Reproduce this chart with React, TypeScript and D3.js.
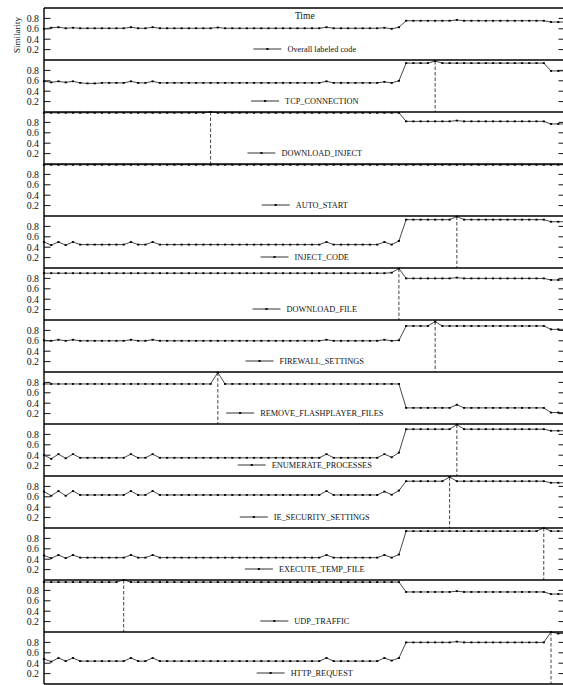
import React, { useEffect, useRef } from 'react';
import * as d3 from 'd3';

// one series per panel, 73 time steps each
const seriesNames = [
  'Overall labeled code',
  'TCP_CONNECTION',
  'DOWNLOAD_INJECT',
  'AUTO_START',
  'INJECT_CODE',
  'DOWNLOAD_FILE',
  'FIREWALL_SETTINGS',
  'REMOVE_FLASHPLAYER_FILES',
  'ENUMERATE_PROCESSES',
  'IE_SECURITY_SETTINGS',
  'EXECUTE_TEMP_FILE',
  'UDP_TRAFFIC',
  'HTTP_REQUEST',
];

// panels that get a dashed line at their best-matching step
const peakMarked = [false, true, true, false, true, true, true, true, true, true, true, true, true];

const overallCode = [
  0.60, 0.62, 0.63, 0.61, 0.62, 0.61, 0.61, 0.61, 0.61, 0.61,
  0.61, 0.61, 0.63, 0.61, 0.61, 0.63, 0.61, 0.61, 0.61, 0.61,
  0.61, 0.61, 0.61, 0.61, 0.625, 0.61, 0.61, 0.61, 0.61, 0.61,
  0.61, 0.61, 0.61, 0.61, 0.61, 0.61, 0.61, 0.61, 0.61, 0.63,
  0.61, 0.61, 0.61, 0.61, 0.61, 0.61, 0.61, 0.62, 0.60, 0.63,
  0.755, 0.755, 0.755, 0.755, 0.755, 0.755, 0.755, 0.77, 0.755, 0.755,
  0.755, 0.755, 0.755, 0.755, 0.755, 0.755, 0.755, 0.755, 0.755, 0.755,
  0.73, 0.73, 0.73,
];

const tcpConnection = [
  0.59, 0.57, 0.59, 0.57, 0.59, 0.56, 0.55, 0.55, 0.56, 0.56,
  0.56, 0.56, 0.59, 0.56, 0.56, 0.59, 0.56, 0.56, 0.56, 0.56,
  0.56, 0.56, 0.56, 0.56, 0.56, 0.56, 0.56, 0.56, 0.56, 0.56,
  0.56, 0.56, 0.56, 0.56, 0.56, 0.56, 0.56, 0.56, 0.56, 0.59,
  0.56, 0.56, 0.56, 0.56, 0.56, 0.56, 0.56, 0.58, 0.56, 0.60,
  0.94, 0.94, 0.94, 0.94, 0.98, 0.94, 0.94, 0.94, 0.94, 0.94,
  0.94, 0.94, 0.94, 0.94, 0.94, 0.94, 0.94, 0.94, 0.94, 0.94,
  0.79, 0.79, 0.79,
];

const downloadInject = [
  0.985, 0.985, 0.985, 0.985, 0.985, 0.985, 0.985, 0.985, 0.985, 0.985,
  0.985, 0.985, 0.985, 0.985, 0.985, 0.985, 0.985, 0.985, 0.985, 0.985,
  0.985, 0.985, 0.985, 1.0, 0.985, 0.985, 0.985, 0.985, 0.985, 0.985,
  0.985, 0.985, 0.985, 0.985, 0.985, 0.985, 0.985, 0.985, 0.985, 0.985,
  0.985, 0.985, 0.985, 0.985, 0.985, 0.985, 0.985, 0.985, 0.985, 0.985,
  0.82, 0.82, 0.82, 0.82, 0.82, 0.82, 0.82, 0.835, 0.82, 0.82,
  0.82, 0.82, 0.82, 0.82, 0.82, 0.82, 0.82, 0.82, 0.82, 0.82,
  0.77, 0.77, 0.77,
];

const autoStart = [
  0.985, 0.985, 0.985, 0.985, 0.985, 0.985, 0.985, 0.985, 0.985, 0.985,
  0.985, 0.985, 0.985, 0.985, 0.985, 0.985, 0.985, 0.985, 0.985, 0.985,
  0.985, 0.985, 0.985, 0.985, 0.985, 0.985, 0.985, 0.985, 0.985, 0.985,
  0.985, 0.985, 0.985, 0.985, 0.985, 0.985, 0.985, 0.985, 0.985, 0.985,
  0.985, 0.985, 0.985, 0.985, 0.985, 0.985, 0.985, 0.985, 0.985, 0.985,
  0.985, 0.985, 0.985, 0.985, 0.985, 0.985, 0.985, 0.985, 0.985, 0.985,
  0.985, 0.985, 0.985, 0.985, 0.985, 0.985, 0.985, 0.985, 0.985, 0.985,
  0.985, 0.985, 0.985,
];

const injectCode = [
  0.50, 0.44, 0.50, 0.44, 0.50, 0.45, 0.45, 0.45, 0.45, 0.45,
  0.45, 0.45, 0.50, 0.45, 0.45, 0.50, 0.45, 0.45, 0.45, 0.45,
  0.45, 0.45, 0.45, 0.45, 0.45, 0.45, 0.45, 0.45, 0.45, 0.45,
  0.45, 0.45, 0.45, 0.45, 0.45, 0.45, 0.45, 0.45, 0.45, 0.50,
  0.45, 0.45, 0.45, 0.45, 0.45, 0.45, 0.45, 0.50, 0.45, 0.52,
  0.93, 0.93, 0.93, 0.93, 0.93, 0.93, 0.93, 0.99, 0.93, 0.93,
  0.93, 0.93, 0.93, 0.93, 0.93, 0.93, 0.93, 0.93, 0.93, 0.93,
  0.89, 0.89, 0.89,
];

const downloadFile = [
  0.90, 0.90, 0.90, 0.90, 0.90, 0.90, 0.90, 0.90, 0.90, 0.90,
  0.90, 0.90, 0.90, 0.90, 0.90, 0.90, 0.90, 0.90, 0.90, 0.90,
  0.90, 0.90, 0.90, 0.90, 0.90, 0.90, 0.90, 0.90, 0.90, 0.90,
  0.90, 0.90, 0.90, 0.90, 0.90, 0.90, 0.90, 0.90, 0.90, 0.90,
  0.90, 0.90, 0.90, 0.90, 0.90, 0.90, 0.90, 0.90, 0.91, 0.99,
  0.80, 0.80, 0.80, 0.80, 0.80, 0.80, 0.80, 0.815, 0.80, 0.80,
  0.80, 0.80, 0.80, 0.80, 0.80, 0.80, 0.80, 0.80, 0.80, 0.80,
  0.77, 0.77, 0.77,
];

const firewallSettings = [
  0.61, 0.60, 0.62, 0.60, 0.62, 0.60, 0.60, 0.60, 0.60, 0.60,
  0.60, 0.60, 0.62, 0.60, 0.60, 0.62, 0.60, 0.60, 0.60, 0.60,
  0.60, 0.60, 0.60, 0.60, 0.60, 0.60, 0.60, 0.60, 0.60, 0.60,
  0.60, 0.60, 0.60, 0.60, 0.60, 0.60, 0.60, 0.60, 0.60, 0.62,
  0.60, 0.60, 0.60, 0.60, 0.60, 0.60, 0.60, 0.62, 0.60, 0.61,
  0.885, 0.885, 0.885, 0.885, 0.97, 0.885, 0.885, 0.885, 0.885, 0.885,
  0.885, 0.885, 0.885, 0.885, 0.885, 0.885, 0.885, 0.885, 0.885, 0.885,
  0.82, 0.82, 0.82,
];

const removeFlashplayerFiles = [
  0.77, 0.77, 0.77, 0.77, 0.77, 0.77, 0.77, 0.77, 0.77, 0.77,
  0.77, 0.77, 0.77, 0.77, 0.77, 0.77, 0.77, 0.77, 0.77, 0.77,
  0.77, 0.77, 0.77, 0.77, 0.99, 0.77, 0.77, 0.77, 0.77, 0.77,
  0.77, 0.77, 0.77, 0.77, 0.77, 0.77, 0.77, 0.77, 0.77, 0.77,
  0.77, 0.77, 0.77, 0.77, 0.77, 0.77, 0.77, 0.77, 0.77, 0.77,
  0.31, 0.31, 0.31, 0.31, 0.31, 0.31, 0.31, 0.37, 0.31, 0.31,
  0.31, 0.31, 0.31, 0.31, 0.31, 0.31, 0.31, 0.31, 0.31, 0.31,
  0.22, 0.22, 0.22,
];

const enumerateProcesses = [
  0.40, 0.33, 0.42, 0.34, 0.42, 0.35, 0.35, 0.35, 0.35, 0.35,
  0.35, 0.35, 0.42, 0.35, 0.35, 0.42, 0.35, 0.35, 0.35, 0.35,
  0.35, 0.35, 0.35, 0.35, 0.35, 0.35, 0.35, 0.35, 0.35, 0.35,
  0.35, 0.35, 0.35, 0.35, 0.35, 0.35, 0.35, 0.35, 0.35, 0.42,
  0.35, 0.35, 0.35, 0.35, 0.35, 0.35, 0.35, 0.42, 0.36, 0.45,
  0.90, 0.90, 0.90, 0.90, 0.90, 0.90, 0.90, 0.99, 0.90, 0.90,
  0.90, 0.90, 0.90, 0.90, 0.90, 0.90, 0.90, 0.90, 0.90, 0.90,
  0.87, 0.87, 0.87,
];

const ieSecuritySettings = [
  0.70, 0.62, 0.71, 0.62, 0.71, 0.635, 0.635, 0.635, 0.635, 0.635,
  0.635, 0.635, 0.71, 0.635, 0.635, 0.71, 0.635, 0.635, 0.635, 0.635,
  0.635, 0.635, 0.635, 0.635, 0.635, 0.635, 0.635, 0.635, 0.635, 0.635,
  0.635, 0.635, 0.635, 0.635, 0.635, 0.635, 0.635, 0.635, 0.635, 0.71,
  0.635, 0.635, 0.635, 0.635, 0.635, 0.635, 0.635, 0.70, 0.64, 0.72,
  0.90, 0.90, 0.90, 0.90, 0.90, 0.90, 0.98, 0.90, 0.90, 0.90,
  0.90, 0.90, 0.90, 0.90, 0.90, 0.90, 0.90, 0.90, 0.90, 0.90,
  0.87, 0.87, 0.87,
];

const executeTempFile = [
  0.47, 0.42, 0.48, 0.42, 0.48, 0.43, 0.43, 0.43, 0.43, 0.43,
  0.43, 0.43, 0.48, 0.43, 0.43, 0.48, 0.43, 0.43, 0.43, 0.43,
  0.43, 0.43, 0.43, 0.43, 0.43, 0.43, 0.43, 0.43, 0.43, 0.43,
  0.43, 0.43, 0.43, 0.43, 0.43, 0.43, 0.43, 0.43, 0.43, 0.48,
  0.43, 0.43, 0.43, 0.43, 0.43, 0.43, 0.43, 0.48, 0.43, 0.49,
  0.94, 0.94, 0.94, 0.94, 0.94, 0.94, 0.94, 0.94, 0.94, 0.94,
  0.94, 0.94, 0.94, 0.94, 0.94, 0.94, 0.94, 0.94, 0.94, 1.0,
  0.94, 0.94, 0.94,
];

const udpTraffic = [
  0.96, 0.96, 0.96, 0.96, 0.96, 0.96, 0.96, 0.96, 0.96, 0.96,
  0.96, 1.0, 0.96, 0.96, 0.96, 0.96, 0.96, 0.96, 0.96, 0.96,
  0.96, 0.96, 0.96, 0.96, 0.96, 0.96, 0.96, 0.96, 0.96, 0.96,
  0.96, 0.96, 0.96, 0.96, 0.96, 0.96, 0.96, 0.96, 0.96, 0.96,
  0.96, 0.96, 0.96, 0.96, 0.96, 0.96, 0.96, 0.96, 0.96, 0.96,
  0.77, 0.77, 0.77, 0.77, 0.77, 0.77, 0.77, 0.785, 0.77, 0.77,
  0.77, 0.77, 0.77, 0.77, 0.77, 0.77, 0.77, 0.77, 0.77, 0.77,
  0.73, 0.73, 0.73,
];

const httpRequest = [
  0.48, 0.43, 0.50, 0.44, 0.50, 0.44, 0.44, 0.44, 0.44, 0.44,
  0.44, 0.44, 0.50, 0.44, 0.44, 0.50, 0.44, 0.44, 0.44, 0.44,
  0.44, 0.44, 0.44, 0.44, 0.44, 0.44, 0.44, 0.44, 0.44, 0.44,
  0.44, 0.44, 0.44, 0.44, 0.44, 0.44, 0.44, 0.44, 0.44, 0.50,
  0.44, 0.44, 0.44, 0.44, 0.44, 0.44, 0.44, 0.50, 0.45, 0.50,
  0.80, 0.80, 0.80, 0.80, 0.80, 0.80, 0.80, 0.815, 0.80, 0.80,
  0.80, 0.80, 0.80, 0.80, 0.80, 0.80, 0.80, 0.80, 0.80, 0.80,
  1.0, 0.97, 0.97,
];

const seriesValues = [
  overallCode, tcpConnection, downloadInject, autoStart, injectCode,
  downloadFile, firewallSettings, removeFlashplayerFiles, enumerateProcesses,
  ieSecuritySettings, executeTempFile, udpTraffic, httpRequest,
];

const yTickValues = [0.2, 0.4, 0.6, 0.8];

const width = 563;
const height = 685;
const plotLeft = 44;
const plotRight = 565.5;
const plotTop = 8;
const panelHeight = 52;
const serif = "'Liberation Serif', 'Times New Roman', Times, serif";

export default function App() {
  const svgRef = useRef<SVGSVGElement>(null);

  useEffect(() => {
    const svg = d3.select(svgRef.current);
    svg.selectAll('*').remove();
    svg.attr('font-family', serif);

    const x = d3.scaleLinear()
      .domain([0, overallCode.length - 1])
      .range([plotLeft, plotRight]);
    const y = d3.scaleLinear().domain([0, 1]).range([panelHeight, 0]);

    const line = d3.line<number>()
      .x((d, i) => x(i))
      .y(d => y(d));

    seriesValues.forEach((values, k) => {
      const g = svg.append('g')
        .attr('transform', `translate(0,${plotTop + k * panelHeight})`);

      // inward ticks on both sides
      g.selectAll('.tick-left')
        .data(yTickValues)
        .enter()
        .append('line')
        .attr('x1', plotLeft)
        .attr('x2', plotLeft + 6.5)
        .attr('y1', d => y(d))
        .attr('y2', d => y(d))
        .attr('stroke', '#111')
        .attr('stroke-width', 1);

      g.selectAll('.tick-right')
        .data(yTickValues)
        .enter()
        .append('line')
        .attr('x1', plotRight - 7)
        .attr('x2', plotRight)
        .attr('y1', d => y(d))
        .attr('y2', d => y(d))
        .attr('stroke', '#111')
        .attr('stroke-width', 1);

      g.selectAll('.tick-label')
        .data(yTickValues)
        .enter()
        .append('text')
        .attr('x', plotLeft - 5)
        .attr('y', d => y(d))
        .attr('dy', '0.35em')
        .attr('text-anchor', 'end')
        .attr('font-family', serif)
        .attr('font-size', 9.8)
        .attr('fill', '#111')
        .text(d => d.toFixed(1));

      // dashed marker at the series maximum
      if (peakMarked[k]) {
        const peak = d3.maxIndex(values);
        g.append('line')
          .attr('x1', x(peak))
          .attr('x2', x(peak))
          .attr('y1', y(values[peak]))
          .attr('y2', panelHeight)
          .attr('stroke', '#444')
          .attr('stroke-width', 1)
          .attr('stroke-dasharray', '3.5,2');
      }

      g.append('path')
        .attr('d', line(values))
        .attr('fill', 'none')
        .attr('stroke', '#333')
        .attr('stroke-width', 0.9);

      g.selectAll('.marker')
        .data(values)
        .enter()
        .append('rect')
        .attr('x', (d, i) => x(i) - 1.1)
        .attr('y', d => y(d) - 0.9)
        .attr('width', 2.2)
        .attr('height', 1.8)
        .attr('fill', '#000');

      // legend, centred in the panel
      const legend = g.append('g');
      const label = legend.append('text')
        .attr('x', 34)
        .attr('y', 41)
        .attr('dy', '0.35em')
        .attr('font-family', serif)
        .attr('font-size', 8.3)
        .attr('fill', '#111')
        .text(seriesNames[k]);
      const legendWidth = 34 + (label.node() as SVGTextElement).getComputedTextLength();
      legend.append('line')
        .attr('x1', 0)
        .attr('x2', 28)
        .attr('y1', 41)
        .attr('y2', 41)
        .attr('stroke', '#333')
        .attr('stroke-width', 1);
      legend.append('rect')
        .attr('x', 12.9)
        .attr('y', 40.1)
        .attr('width', 2.2)
        .attr('height', 1.8)
        .attr('fill', '#000');
      legend.attr('transform', `translate(${(plotLeft + plotRight) / 2 - legendWidth / 2},0)`);
    });

    // panel frames
    d3.range(seriesValues.length + 1).forEach(k => {
      svg.append('line')
        .attr('x1', plotLeft)
        .attr('x2', plotRight)
        .attr('y1', plotTop + k * panelHeight)
        .attr('y2', plotTop + k * panelHeight)
        .attr('stroke', '#000')
        .attr('stroke-width', 1.4);
    });
    svg.append('line')
      .attr('x1', plotLeft)
      .attr('x2', plotLeft)
      .attr('y1', plotTop)
      .attr('y2', plotTop + seriesValues.length * panelHeight)
      .attr('stroke', '#000')
      .attr('stroke-width', 1.4);
    svg.append('line')
      .attr('x1', plotRight)
      .attr('x2', plotRight)
      .attr('y1', plotTop)
      .attr('y2', plotTop + seriesValues.length * panelHeight)
      .attr('stroke', '#000')
      .attr('stroke-width', 1.4);

    svg.append('text')
      .attr('x', (plotLeft + plotRight) / 2)
      .attr('y', plotTop + 8)
      .attr('dy', '0.35em')
      .attr('text-anchor', 'middle')
      .attr('font-family', serif)
      .attr('font-size', 9.5)
      .attr('fill', '#111')
      .text('Time');

    svg.append('text')
      .attr('transform', `translate(17,${plotTop + 27}) rotate(-90)`)
      .attr('dy', '0.35em')
      .attr('text-anchor', 'middle')
      .attr('font-family', serif)
      .attr('font-size', 9)
      .attr('fill', '#111')
      .text('Similarity');
  }, []);

  return (
    <div style={{ position: 'absolute', left: 0, top: 0 }}>
      <svg
        ref={svgRef}
        width={width}
        height={height}
        style={{ display: 'block', background: 'white' }}
      />
    </div>
  );
}
